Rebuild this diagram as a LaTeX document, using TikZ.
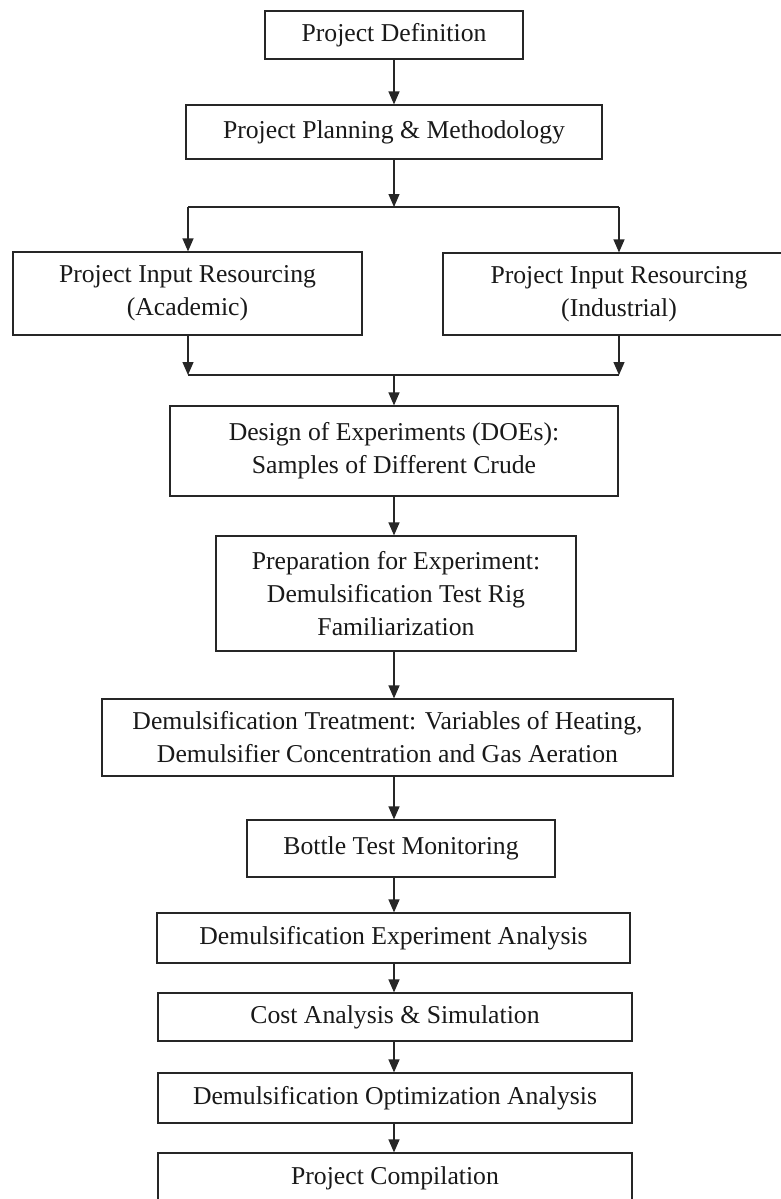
\documentclass[tikz,border=0pt]{standalone}
\usepackage{fontspec}
\setmainfont{Liberation Serif}
\usetikzlibrary{arrows.meta}
\begin{document}
\begin{tikzpicture}[x=1pt,y=-1pt,
  box/.style={draw=black!85, line width=1.2pt, rectangle, inner sep=0pt, align=center,
    font=\fontsize{25.7}{33}\selectfont, text=black!90},
  arr/.style={draw=black!85, line width=1.2pt, -{Triangle[length=13pt,width=11pt]}},
  ln/.style={draw=black!85, line width=1.2pt}]
\useasboundingbox (0,0) rectangle (781,1199);
\fill[white] (0,0) rectangle (781,1199);
\coordinate (spine) at (394,0);
\node[box, minimum width=258pt, minimum height=48pt] (def) at (394,35) {Project Definition};
\node[box, minimum width=416pt, minimum height=54pt] (plan) at (394,132) {Project Planning \& Methodology};
\node[box, minimum width=349pt, minimum height=83pt] (acad) at (187.5,293.5) {Project Input Resourcing\\(Academic)};
\node[box, minimum width=352pt, minimum height=82pt] (ind) at (619,294) {Project Input Resourcing\\(Industrial)};
\node[box, minimum width=448pt, minimum height=90pt] (doe) at (394,451) {Design of Experiments (DOEs):\\Samples of Different Crude};
\node[box, minimum width=360pt, minimum height=115pt] (prep) at (396,593.5) {Preparation for Experiment:\\Demulsification Test Rig\\Familiarization};
\node[box, minimum width=571pt, minimum height=77pt] (treat) at (387.5,737.5) {Demulsification Treatment: Variables of Heating,\\Demulsifier Concentration and Gas Aeration};
\node[box, minimum width=308pt, minimum height=57pt] (bottle) at (401,848.5) {Bottle Test Monitoring};
\node[box, minimum width=473pt, minimum height=50pt] (exp) at (393.5,938) {Demulsification Experiment Analysis};
\node[box, minimum width=474pt, minimum height=48pt] (cost) at (395,1017) {Cost Analysis \& Simulation};
\node[box, minimum width=474pt, minimum height=50pt] (opt) at (395,1098) {Demulsification Optimization Analysis};
\node[box, minimum width=474pt, minimum height=50pt] (comp) at (395,1178) {Project Compilation};
% split
\coordinate (split) at (394,207);
\coordinate (sl) at (188,207);
\coordinate (sr) at (619,207);
\coordinate (merge) at (394,375);
\coordinate (ml) at (188,375);
\coordinate (mr) at (619,375);
\draw[arr] (def.south -| spine) -- (plan.north -| spine);
\draw[arr] (plan.south -| spine) -- (split);
\draw[ln] (sl) -- (sr);
\draw[arr] (sl) -- (acad.north -| sl);
\draw[arr] (sr) -- (ind.north -| sr);
\draw[arr] (acad.south -| ml) -- (ml);
\draw[arr] (ind.south -| mr) -- (mr);
\draw[ln] (ml) -- (mr);
\draw[arr] (merge) -- (doe.north -| spine);
\draw[arr] (doe.south -| spine) -- (prep.north -| spine);
\draw[arr] (prep.south -| spine) -- (treat.north -| spine);
\draw[arr] (treat.south -| spine) -- (bottle.north -| spine);
\draw[arr] (bottle.south -| spine) -- (exp.north -| spine);
\draw[arr] (exp.south -| spine) -- (cost.north -| spine);
\draw[arr] (cost.south -| spine) -- (opt.north -| spine);
\draw[arr] (opt.south -| spine) -- (comp.north -| spine);
\end{tikzpicture}
\end{document}
